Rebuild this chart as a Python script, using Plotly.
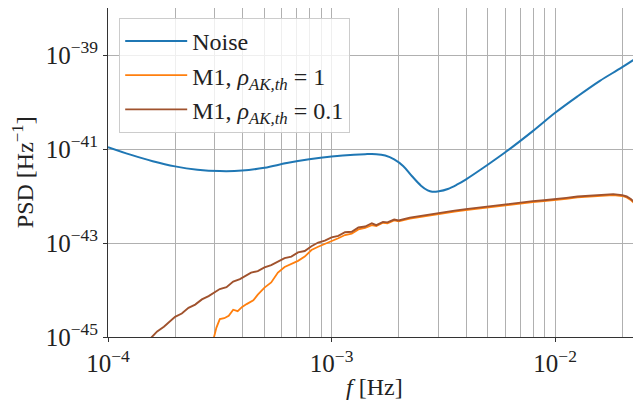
import plotly.graph_objects as go

# ---- data (log10 values) ----
noise_logf = [-4.0, -3.9, -3.8, -3.7, -3.6, -3.5, -3.4, -3.3, -3.2, -3.1, -3.0, -2.9, -2.85,
              -2.8, -2.76, -2.72, -2.68, -2.64, -2.60, -2.57, -2.55, -2.52, -2.48, -2.44,
              -2.40, -2.30, -2.22, -2.10, -2.00, -1.90, -1.80, -1.70, -1.60]
noise_logpsd = [-40.96, -41.12, -41.26, -41.37, -41.44, -41.47, -41.46, -41.40, -41.30, -41.22,
                -41.16, -41.12, -41.11, -41.11, -41.14, -41.22, -41.36, -41.58, -41.78, -41.88,
                -41.91, -41.90, -41.85, -41.76, -41.65, -41.33, -41.06, -40.62, -40.23, -39.88,
                -39.55, -39.26, -38.95]

m1_01_logf = [-3.82, -3.80, -3.78, -3.75, -3.72, -3.70, -3.67, -3.64, -3.61, -3.58, -3.55, -3.527,
              -3.50, -3.47, -3.44, -3.41, -3.39, -3.36, -3.33, -3.30, -3.27, -3.24, -3.21, -3.18,
              -3.15, -3.12, -3.09, -3.06, -3.03, -3.00, -2.97, -2.94, -2.91, -2.88, -2.85, -2.82,
              -2.80, -2.77, -2.75, -2.72, -2.70, -2.65, -2.60, -2.55, -2.50, -2.45, -2.40, -2.35,
              -2.30, -2.25, -2.20, -2.15, -2.10, -2.05, -2.00, -1.95, -1.90, -1.85, -1.80, -1.77,
              -1.74, -1.72, -1.70, -1.68, -1.66, -1.64, -1.62, -1.60]
m1_01_logpsd = [-45.08, -44.98, -44.88, -44.78, -44.66, -44.57, -44.50, -44.38, -44.31, -44.20,
                -44.13, -44.06, -43.98, -43.94, -43.82, -43.77, -43.72, -43.63, -43.60, -43.52,
                -43.47, -43.40, -43.32, -43.29, -43.20, -43.17, -43.07, -42.99, -42.95, -42.88,
                -42.85, -42.77, -42.76, -42.67, -42.65, -42.58, -42.62, -42.55, -42.56, -42.50,
                -42.52, -42.46, -42.42, -42.39, -42.35, -42.31, -42.28, -42.25, -42.22, -42.19,
                -42.16, -42.13, -42.11, -42.09, -42.07, -42.04, -42.01, -41.99, -41.97, -41.97,
                -41.96, -41.97, -41.98, -42.01, -42.07, -42.16, -42.27, -42.42]

m1_1_logf = [-3.53, -3.515, -3.50, -3.48, -3.46, -3.44, -3.42, -3.40, -3.38, -3.35, -3.33, -3.30,
             -3.27, -3.24, -3.21, -3.18, -3.15, -3.12, -3.09, -3.06, -3.03, -3.00, -2.97, -2.94,
             -2.91, -2.88, -2.85, -2.82, -2.80, -2.77, -2.75, -2.72, -2.70, -2.65, -2.60, -2.55,
             -2.50, -2.45, -2.40, -2.35, -2.30, -2.25, -2.20, -2.15, -2.10, -2.05, -2.00, -1.95,
             -1.90, -1.85, -1.80, -1.77, -1.74, -1.72, -1.70, -1.68, -1.66, -1.64, -1.62, -1.60]
m1_1_logpsd = [-45.08, -44.80, -44.62, -44.60, -44.55, -44.42, -44.45, -44.36, -44.30, -44.22,
               -44.10, -43.95, -43.84, -43.63, -43.51, -43.45, -43.38, -43.29, -43.15, -43.08,
               -43.02, -42.97, -42.90, -42.83, -42.80, -42.71, -42.68, -42.62, -42.64, -42.57,
               -42.58, -42.52, -42.54, -42.48, -42.44, -42.41, -42.37, -42.33, -42.30, -42.27,
               -42.24, -42.21, -42.18, -42.15, -42.13, -42.11, -42.09, -42.06, -42.03, -42.01,
               -41.99, -41.99, -41.98, -41.99, -42.00, -42.03, -42.09, -42.18, -42.29, -42.44]

x_major_vals = [1e-4, 1e-3, 1e-2]
x_major_text = ["10<sup>−4</sup>", "10<sup>−3</sup>", "10<sup>−2</sup>"]
x_minor_vals = [m * 10.0 ** e for e in (-4, -3, -2) for m in range(2, 10)]
y_major_vals = [1e-45, 1e-43, 1e-41, 1e-39]
y_major_text = ["10<sup>−45</sup>", "10<sup>−43</sup>", "10<sup>−41</sup>", "10<sup>−39</sup>"]

legend_names = ["Noise",
                "M1, <i>ρ</i><sub><i>AK,th</i></sub> = 1",
                "M1, <i>ρ</i><sub><i>AK,th</i></sub> = 0.1"]
colors = ["#1f77b4", "#ff7f0e", "#a0522d"]
x_title = "<i>f</i> [Hz]"
y_title = "PSD [Hz<sup>−1</sup>]"

def pw(v):
    return [10.0 ** a for a in v]

fig = go.Figure()
fig.add_trace(go.Scatter(x=pw(noise_logf), y=pw(noise_logpsd), mode="lines",
                         line=dict(color=colors[0], width=2, shape="spline"), name=legend_names[0]))
fig.add_trace(go.Scatter(x=pw(m1_1_logf), y=pw(m1_1_logpsd), mode="lines",
                         line=dict(color=colors[1], width=1.8), name=legend_names[1]))
fig.add_trace(go.Scatter(x=pw(m1_01_logf), y=pw(m1_01_logpsd), mode="lines",
                         line=dict(color=colors[2], width=1.9), name=legend_names[2]))

font_family = "Liberation Serif"
# page body has an 8px default margin: figure is 633x393 drawn at (8, 8)
fig.update_layout(
    width=633, height=393,
    margin=dict(l=100, r=0, t=0, b=64),
    paper_bgcolor="white", plot_bgcolor="white",
    font=dict(family=font_family, size=24, color="#222"),
    showlegend=True,
    legend=dict(x=0.021, y=0.97, xanchor="left", yanchor="top",
                bgcolor="rgba(255,255,255,0.8)", bordercolor="#cccccc", borderwidth=1,
                font=dict(size=24, family=font_family, color="#222"), itemwidth=62,
                tracegroupgap=0),
    xaxis=dict(type="log", range=[-4, -1.616], automargin=False,
               tickvals=x_major_vals, ticktext=x_major_text, ticks="outside", ticklen=4,
               tickcolor="#333", showline=True, linecolor="#333", linewidth=1, mirror=True,
               showgrid=True, gridcolor="#b0b0b0", gridwidth=1,
               minor=dict(tickvals=x_minor_vals, showgrid=True, gridcolor="#b0b0b0", gridwidth=1, ticks=""),
               tickfont=dict(size=25), zeroline=False),
    yaxis=dict(type="log", range=[-45, -38], automargin=False,
               tickvals=y_major_vals, ticktext=y_major_text, ticks="outside", ticklen=4,
               tickcolor="#333", showline=True, linecolor="#333", linewidth=1,
               showgrid=True, gridcolor="#b0b0b0", gridwidth=1,
               tickfont=dict(size=25), zeroline=False),
    annotations=[
        dict(text=x_title, xref="paper", yref="paper", x=0.5, y=-0.105, xanchor="center",
             yanchor="top", showarrow=False, font=dict(size=24)),
        dict(text=y_title, xref="paper", yref="paper", x=-0.16, y=0.5, xanchor="center",
             yanchor="middle", showarrow=False, textangle=-90, font=dict(size=24)),
    ],
)

fig.write_html("out.html")
